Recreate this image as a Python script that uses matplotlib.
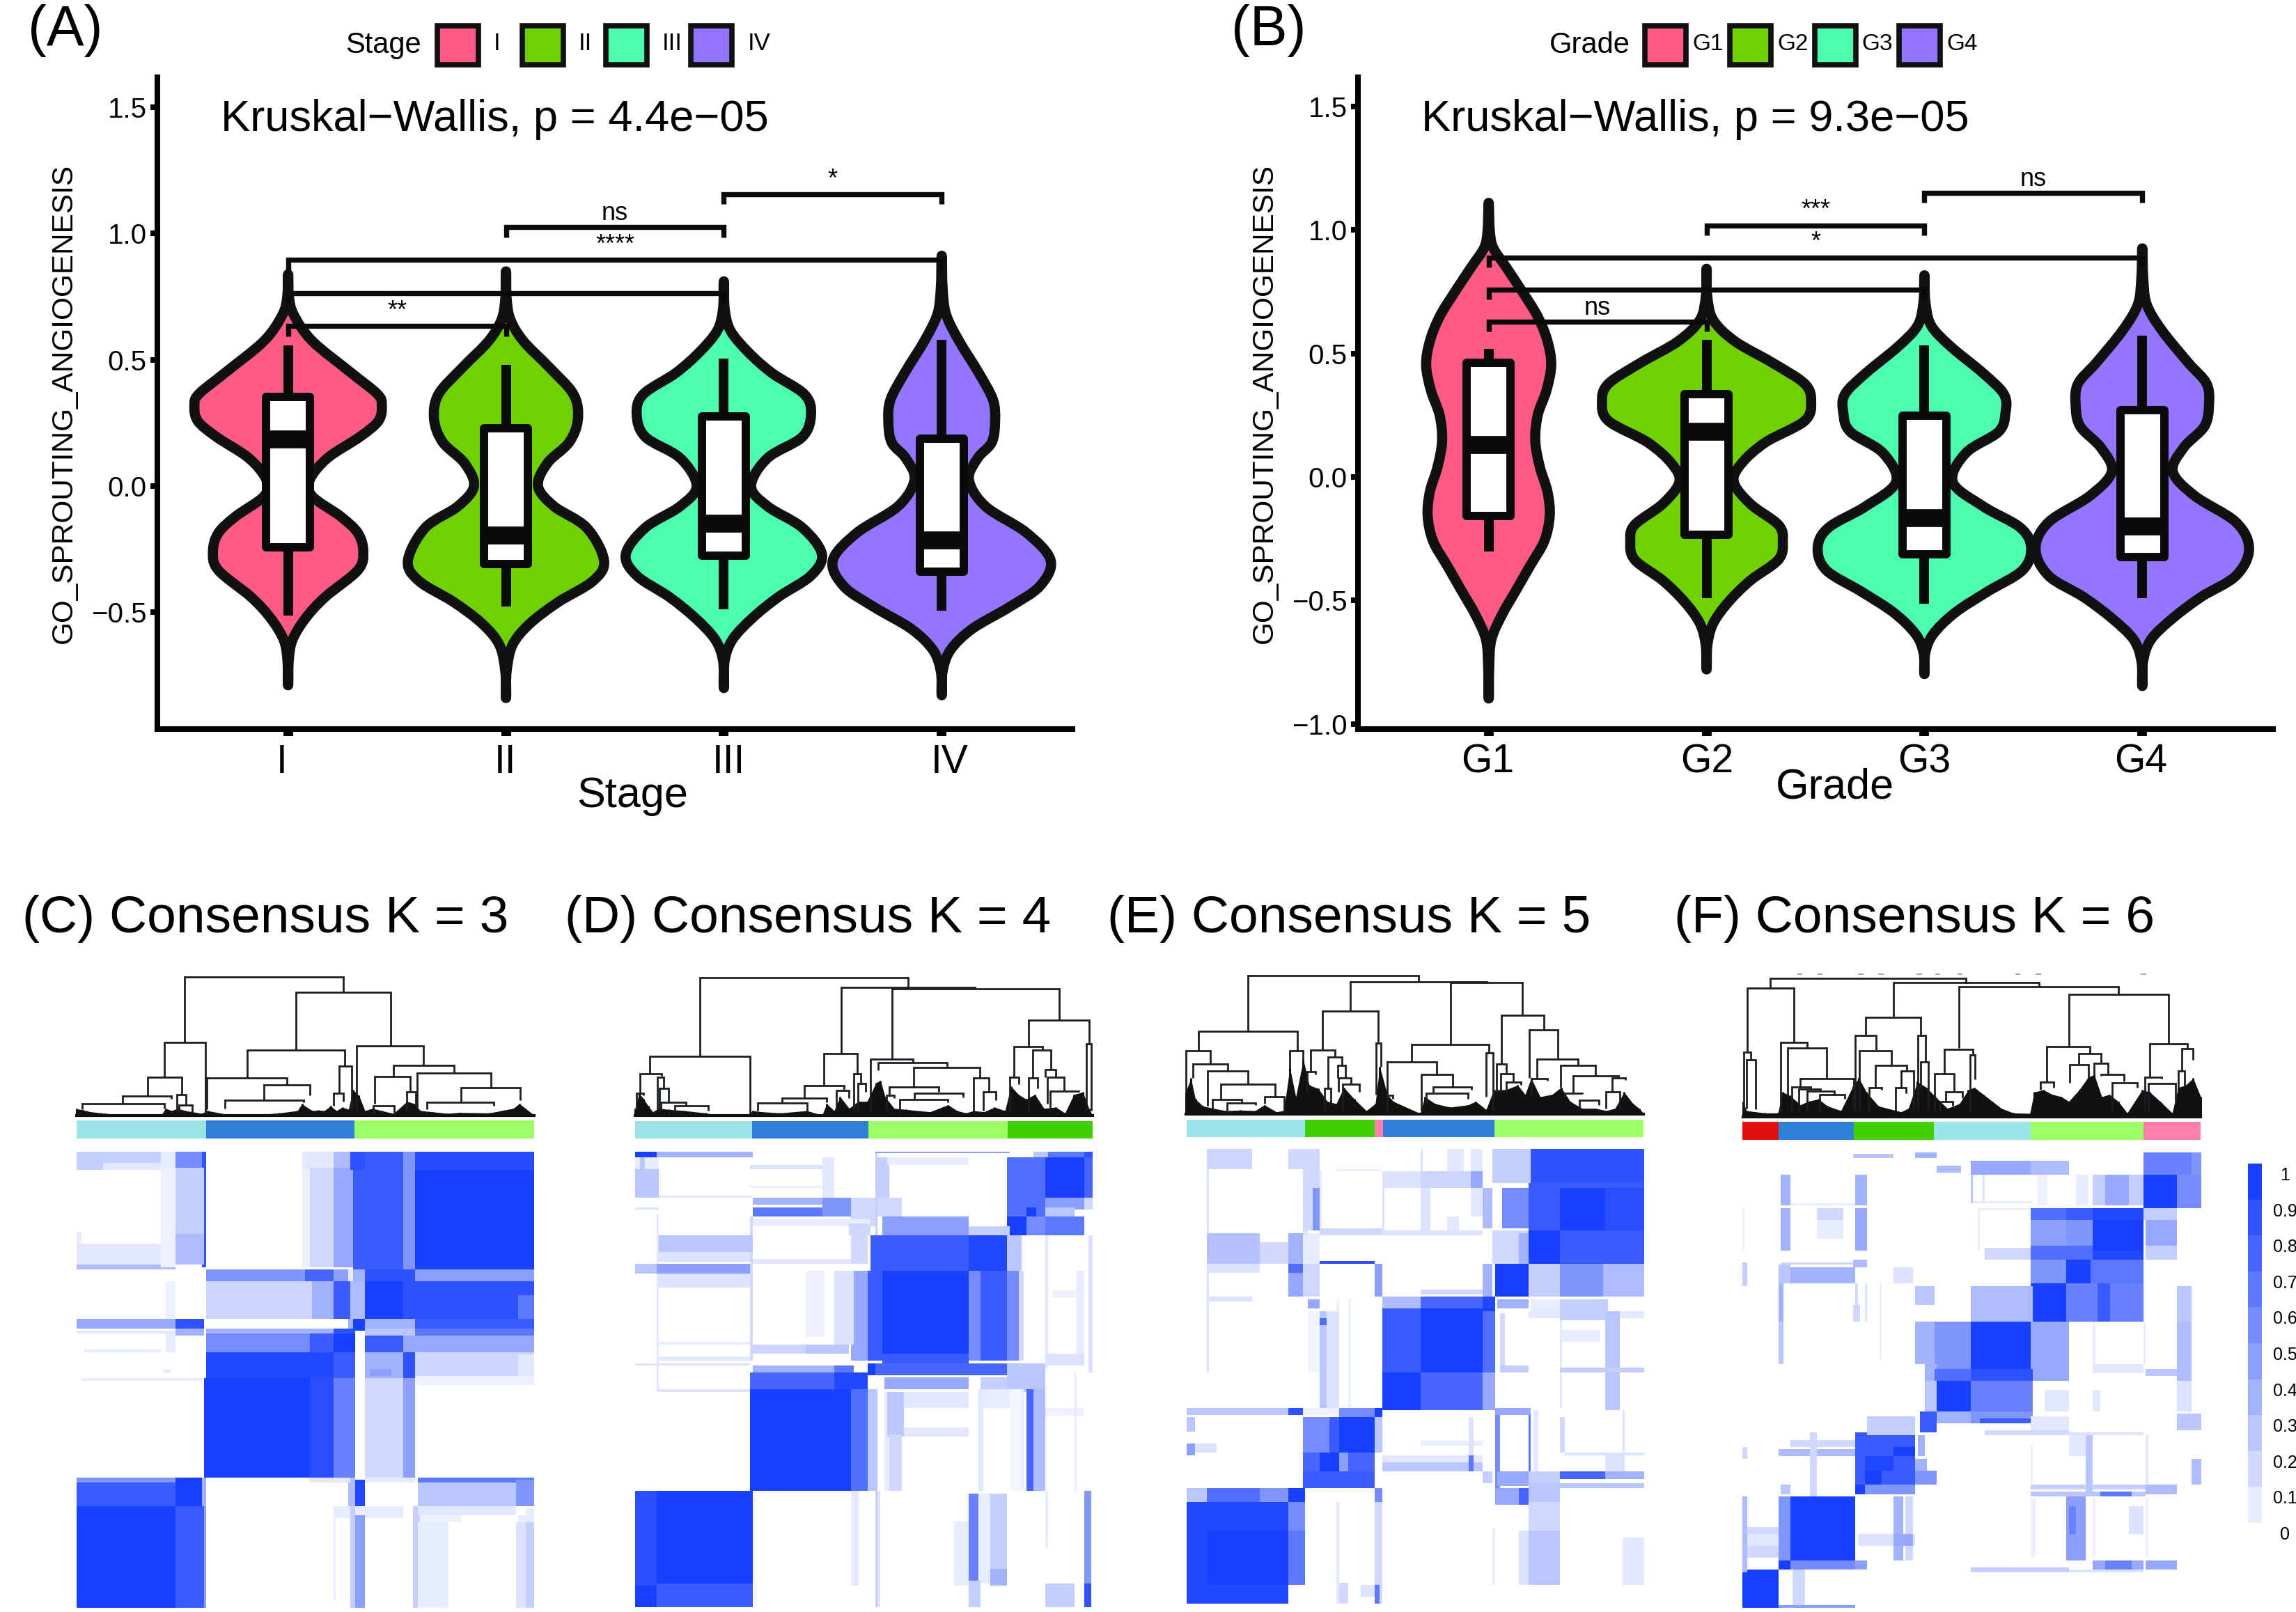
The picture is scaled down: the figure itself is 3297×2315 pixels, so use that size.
########################################################  Packages

import numpy as np
import matplotlib
matplotlib.use('Agg')
import matplotlib.pyplot as plt
from matplotlib.colors import LinearSegmentedColormap
from matplotlib.patches import PathPatch, Rectangle
from matplotlib.path import Path
from matplotlib.transforms import ScaledTranslation

plt.rcParams['font.family'] = ['Liberation Sans', 'DejaVu Sans']

########################################################  Data: violins

stage_labels = ['I', 'II', 'III', 'IV']
grade_labels = ['G1', 'G2', 'G3', 'G4']
violin_colors = ['#FF5A84', '#6FD100', '#4CFDB0', '#9575FF']

# height of each profile point and half width of the violin at that height
a1_y = [.83, .75, .68, .575, .448, .364, .32, .258, .195, .11, .025, -.04, -.12, -.186, -.26, -.334, -.44, -.524, -.61, -.69, -.78]
a1_w = [.001, .004, .025, .11, .29, .41, .43, .415, .33, .18, .10, .11, .24, .32, .345, .32, .17, .08, .02, .003, .001]
a2_y = [.84, .743, .66, .574, .469, .363, .264, .173, .09, 0, -.08, -.165, -.295, -.376, -.46, -.545, -.63, -.735, -.83]
a2_w = [.001, .003, .02, .08, .20, .31, .33, .29, .19, .147, .22, .37, .45, .40, .24, .11, .03, .003, .001]
a3_y = [.80, .70, .616, .532, .448, .363, .283, .194, .11, 0, -.08, -.165, -.27, -.355, -.44, -.524, -.608, -.69, -.79]
a3_w = [.001, .004, .03, .11, .22, .37, .40, .36, .20, .125, .20, .36, .45, .40, .25, .13, .04, .004, .001]
a4_y = [.90, .785, .68, .574, .448, .342, .258, .173, .11, .025, -.08, -.186, -.295, -.397, -.48, -.566, -.65, -.735, -.82]
a4_w = [.001, .004, .02, .08, .17, .235, .245, .23, .165, .125, .20, .39, .50, .45, .31, .14, .04, .004, .001]

b1_y = [1.10, 1.0, .93, .85, .75, .65, .55, .453, .35, .25, .145, .04, -.06, -.158, -.26, -.36, -.46, -.56, -.66, -.78, -.886]
b1_w = [.001, .005, .02, .08, .155, .225, .27, .287, .265, .225, .214, .235, .27, .28, .255, .19, .125, .06, .012, .002, .001]
b2_y = [.833, .734, .637, .55, .464, .378, .306, .227, .14, .054, -.02, -.108, -.194, -.26, -.335, -.42, -.507, -.594, -.68, -.77]
b2_w = [.001, .003, .03, .13, .30, .45, .48, .45, .27, .16, .125, .20, .33, .35, .33, .20, .10, .03, .004, .001]
b3_y = [.807, .712, .615, .529, .42, .335, .259, .183, .097, -.02, -.119, -.205, -.287, -.378, -.464, -.55, -.637, -.712, -.79]
b3_w = [.001, .004, .03, .12, .27, .365, .372, .34, .19, .13, .27, .44, .49, .45, .29, .14, .04, .004, .001]
b4_y = [.915, .81, .70, .594, .464, .378, .291, .205, .119, .022, -.076, -.183, -.291, -.40, -.486, -.572, -.658, -.745, -.837]
b4_w = [.001, .004, .02, .09, .21, .295, .306, .285, .19, .14, .24, .43, .49, .43, .27, .14, .04, .004, .001]

# boxes inside the violins
a_q1 = [-.243, -.31, -.275, -.34]
a_med = [.184, -.197, -.148, -.216]
a_q3 = [.353, .23, .275, .188]
a_lo = [-.514, -.478, -.488, -.493]
a_hi = [.558, .48, .505, .58]

b_q1 = [-.158, -.233, -.313, -.324]
b_med = [.13, .183, -.166, -.20]
b_q3 = [.464, .335, .248, .27]
b_lo = [-.302, -.492, -.514, -.492]
b_hi = [.518, .555, .533, .572]

# comparison brackets: first group, second group, height
a_brackets = [(1, 2, .634), (1, 3, .765), (1, 4, .896), (2, 3, 1.025), (3, 4, 1.156)]
b_brackets = [(1, 2, .63), (1, 3, .76), (1, 4, .889), (2, 3, 1.019), (3, 4, 1.15)]
# significance text: position on the x axis, height, label
a_signif = [(1.5, .69, '**'), (2.5, .953, '****'), (2.5, 1.08, 'ns'), (3.5, 1.211, '*')]
b_signif = [(1.5, .684, 'ns'), (2.5, .948, '*'), (2.5, 1.078, '***'), (3.5, 1.207, 'ns')]

########################################################  Data: consensus matrices

cluster_colors = {'cyan': '#9BE5E8', 'blue': '#2E7FD8', 'lime': '#9DFF66',
                  'green': '#3FD000', 'pink': '#FF7FAC', 'red': '#E41010'}

c_bar_edges = [23, 455, 950, 1549]
c_bar_names = ['cyan', 'blue', 'lime']
d_bar_edges = [16, 407, 794, 1259, 1542]
d_bar_names = ['cyan', 'blue', 'lime', 'green']
e_bar_edges = [21, 416, 648, 676, 1048, 1545]
e_bar_names = ['cyan', 'green', 'pink', 'blue', 'lime']
f_bar_edges = [16, 137, 389, 655, 977, 1354, 1545]
f_bar_names = ['red', 'blue', 'green', 'cyan', 'lime', 'pink']

# blocks of the matrix: column from, column to, row from, row to, consensus
c_blocks = [
    (23, 110, 10, 70, .25), (113, 310, 10, 55, .25), (113, 310, 55, 70, .12), (310, 355, 10, 70, .1),
    (355, 447, 10, 70, .6), (447, 455, 10, 400, .9), (355, 447, 70, 290, .25), (355, 447, 290, 395, .35),
    (23, 310, 325, 390, .12), (23, 355, 395, 408, .35), (310, 350, 70, 400, .08), (780, 880, 10, 70, .12),
    (800, 880, 70, 400, .2), (880, 950, 10, 70, .35), (880, 950, 70, 400, .45), (950, 1115, 10, 405, .85),
    (940, 985, 10, 70, .9), (1115, 1155, 10, 405, .55), (1155, 1549, 10, 405, 1), (1155, 1549, 10, 70, .93),
    (458, 790, 408, 452, .55), (790, 880, 408, 452, .8), (880, 935, 408, 452, .5), (935, 950, 408, 452, .1),
    (950, 985, 408, 452, .4), (985, 1155, 408, 452, .9), (1155, 1549, 408, 452, .5),
    (458, 810, 452, 578, .22), (810, 880, 452, 578, .4), (880, 940, 452, 578, .85), (940, 985, 452, 578, .35),
    (985, 1115, 452, 578, 1), (1115, 1549, 452, 578, .9), (1500, 1549, 500, 578, .7), (320, 355, 452, 578, .08),
    (23, 355, 578, 608, .45), (355, 447, 578, 608, .9), (935, 950, 578, 608, .4), (950, 985, 578, 612, 1),
    (985, 1155, 578, 612, .4), (1155, 1549, 578, 612, .85), (355, 447, 612, 632, .4), (23, 355, 620, 626, .12),
    (458, 880, 615, 630, .4), (880, 950, 615, 630, .9), (1155, 1549, 612, 630, .7), (985, 1155, 615, 632, .3),
    (458, 880, 630, 690, .6), (800, 880, 630, 690, .85), (880, 950, 630, 690, 1), (985, 1115, 635, 690, .85),
    (1115, 1155, 635, 690, .45), (1155, 1549, 635, 690, .45), (458, 880, 690, 780, .95), (880, 950, 690, 780, .85),
    (985, 1115, 690, 780, .4), (1000, 1075, 750, 765, .5), (1115, 1155, 690, 790, .9), (1155, 1549, 690, 770, .22),
    (1500, 1549, 700, 765, .12), (1155, 1549, 770, 795, .08), (455, 800, 780, 1115, 1), (800, 880, 780, 1115, .92),
    (880, 950, 780, 1115, .65), (985, 1115, 780, 1110, .2), (1115, 1155, 780, 1110, .5),
    (23, 355, 1115, 1215, .85), (23, 355, 1115, 1125, .55), (355, 447, 1115, 1215, 1), (447, 455, 1115, 1215, .4),
    (935, 955, 1115, 1215, .35), (955, 985, 1120, 1215, .95), (800, 935, 1118, 1125, .12), (985, 1150, 1118, 1125, .1),
    (1165, 1549, 1125, 1205, .3), (1165, 1549, 1115, 1125, .7), (1490, 1549, 1125, 1205, .55),
    (23, 355, 1215, 1553, 1), (355, 450, 1215, 1553, .85), (450, 455, 1215, 1553, .5), (880, 1115, 1215, 1245, .1),
    (955, 985, 1245, 1553, .5), (1150, 1165, 1215, 1553, .25), (1165, 1490, 1215, 1240, .12),
    (1165, 1260, 1265, 1553, .1), (1490, 1549, 1265, 1553, .15), (1520, 1549, 1265, 1553, .25),
]
d_blocks = [
    (16, 92, 12, 35, 1), (92, 405, 15, 33, .4), (16, 92, 35, 168, .3), (50, 92, 35, 70, .1), (16, 32, 35, 70, .1),
    (405, 640, 60, 72, .15), (640, 680, 35, 165, .12), (820, 860, 35, 165, .25), (1260, 1385, 35, 168, .75),
    (1385, 1515, 35, 168, 1), (1515, 1541, 35, 168, .8), (1390, 1515, 10, 35, .7), (1350, 1390, 10, 35, .3),
    (1515, 1541, 10, 35, .9), (820, 1260, 8, 14, .5), (860, 1130, 35, 55, .1), (408, 740, 170, 192, .4),
    (408, 740, 205, 232, .7), (640, 740, 170, 232, .55), (740, 820, 170, 260, .2), (820, 900, 170, 232, .2),
    (1260, 1385, 168, 232, .75), (1320, 1350, 205, 232, 1), (1385, 1515, 168, 205, .5), (1385, 1480, 205, 232, .3),
    (1515, 1541, 168, 205, .2), (1260, 1320, 232, 296, 1), (1320, 1385, 232, 296, .6), (1385, 1515, 232, 296, .7),
    (840, 1130, 235, 296, .5), (1130, 1260, 265, 296, .25), (405, 800, 245, 262, .1), (730, 800, 262, 296, .2),
    (800, 1130, 296, 420, .85), (1130, 1260, 296, 420, .95), (96, 405, 296, 355, .3), (96, 405, 355, 380, .15),
    (16, 92, 395, 420, .3), (92, 400, 395, 420, .5), (405, 740, 380, 392, .12), (740, 795, 296, 390, .2),
    (1260, 1300, 296, 420, .3), (840, 1130, 420, 700, 1), (795, 840, 420, 720, .85), (1130, 1170, 420, 720, .6),
    (1170, 1260, 420, 720, .85), (740, 795, 420, 720, .45), (685, 740, 420, 660, .15), (590, 650, 420, 640, .08),
    (1260, 1300, 420, 720, .6), (1300, 1315, 420, 720, .2), (96, 400, 425, 470, .15), (1415, 1510, 480, 500, .08),
    (410, 730, 665, 695, .22), (590, 730, 665, 695, .3), (840, 1130, 700, 730, .85), (1390, 1515, 700, 735, .15),
    (92, 400, 708, 722, .12), (795, 820, 735, 765, 1), (820, 1260, 735, 765, .8), (408, 740, 740, 765, .4),
    (680, 740, 740, 765, .7), (1260, 1385, 730, 765, .3), (405, 795, 765, 820, .8), (680, 795, 765, 820, .95),
    (850, 1130, 780, 815, .45), (1175, 1260, 780, 820, .25), (1260, 1385, 765, 820, .3), (407, 740, 820, 1162, 1),
    (740, 795, 820, 1162, .75), (795, 820, 820, 1162, .3), (860, 915, 830, 975, .3), (870, 900, 975, 1162, .2),
    (915, 1130, 830, 880, .12), (915, 1130, 950, 975, .12), (1165, 1270, 820, 880, .1), (1320, 1350, 820, 1160, .8),
    (1350, 1380, 820, 1160, .35), (1385, 1510, 885, 905, .08), (1300, 1315, 820, 1160, .1), (1270, 1300, 820, 1160, .05),
    (16, 92, 1162, 1555, .92), (92, 405, 1162, 1475, 1), (16, 92, 1480, 1555, 1), (92, 405, 1478, 1555, .85),
    (1135, 1165, 1170, 1470, .65), (1165, 1200, 1170, 1470, .1), (1200, 1258, 1170, 1470, .25),
    (1135, 1165, 1470, 1555, .25), (1200, 1258, 1430, 1480, .4), (1080, 1130, 1270, 1480, .1),
    (1515, 1535, 1165, 1555, .55), (1385, 1480, 1475, 1555, .25), (1515, 1535, 1475, 1555, .9),
    (820, 830, 1165, 1555, .15), (740, 750, 1165, 1480, .1),
]
e_blocks = [
    (88, 240, 12, 80, .22), (360, 415, 12, 80, .2), (415, 465, 12, 290, .2), (445, 465, 145, 285, .55),
    (1165, 1545, 12, 130, .9), (1165, 1545, 130, 295, .85), (1265, 1420, 145, 295, 1), (1420, 1545, 145, 295, .92),
    (1045, 1165, 12, 130, .25), (1075, 1160, 145, 280, .6), (1015, 1040, 145, 280, .35), (975, 1010, 145, 240, .12),
    (800, 1010, 95, 145, .22), (675, 800, 95, 145, .15), (975, 1010, 95, 145, .45), (1165, 1265, 295, 400, 1),
    (1265, 1545, 295, 400, .85), (1045, 1160, 295, 400, .2), (1130, 1160, 300, 400, .4), (88, 265, 300, 400, .32),
    (265, 360, 335, 400, .2), (360, 415, 300, 400, .4), (415, 465, 300, 400, .1), (360, 415, 402, 515, .45),
    (360, 415, 402, 430, .75), (88, 265, 405, 435, .15), (415, 465, 402, 515, .2), (655, 675, 400, 515, .5),
    (465, 650, 398, 402, .9), (1048, 1160, 402, 515, 1), (1165, 1265, 402, 515, .25), (1265, 1415, 405, 515, .55),
    (1415, 1545, 405, 515, .35), (1010, 1040, 405, 515, .4), (800, 1010, 488, 503, .2), (88, 240, 517, 527, .15),
    (430, 465, 520, 555, .45), (675, 800, 517, 555, .35), (800, 1010, 517, 555, .8), (1010, 1048, 517, 560, .95),
    (675, 800, 555, 765, .85), (800, 1048, 555, 765, 1), (1010, 1048, 560, 765, .75), (675, 800, 770, 893, 1),
    (800, 1048, 770, 893, .8), (1010, 1048, 770, 893, .45), (465, 525, 560, 893, .3), (465, 495, 590, 610, .75),
    (495, 525, 560, 893, .15), (1060, 1160, 525, 555, .4), (1170, 1265, 525, 560, .1), (1265, 1420, 525, 590, .25),
    (1420, 1465, 560, 893, .3), (1065, 1080, 570, 760, .2), (1270, 1400, 630, 660, .1), (1270, 1545, 755, 770, .25),
    (1065, 1160, 745, 765, .25), (21, 360, 895, 915, .3), (360, 415, 895, 915, .9), (415, 530, 895, 915, .08),
    (530, 650, 895, 920, .6), (650, 675, 895, 920, 1), (415, 530, 920, 1160, .85), (530, 650, 920, 1040, 1),
    (415, 495, 920, 1040, .6), (650, 675, 920, 1040, .3), (415, 530, 1045, 1105, .8), (465, 525, 1045, 1105, 1),
    (530, 650, 1045, 1105, .8), (530, 560, 1045, 1105, .5), (415, 650, 1105, 1160, .85), (21, 50, 920, 970, .3),
    (21, 50, 1012, 1045, .5), (50, 120, 1012, 1040, .15), (1048, 1165, 895, 915, .45), (1050, 1060, 915, 1160, .6),
    (1160, 1165, 915, 1160, .7), (675, 1010, 1050, 1078, .12), (675, 1010, 1078, 1105, .3), (960, 975, 1050, 1105, .7),
    (1060, 1160, 1108, 1155, .45), (1270, 1415, 1108, 1125, .8), (1420, 1545, 1110, 1125, .4), (1165, 1265, 1110, 1155, .25),
    (1010, 1040, 1108, 1140, .25), (1165, 1545, 1150, 1160, .3), (1048, 1160, 1160, 1215, .45), (1130, 1160, 1160, 1215, .8),
    (1165, 1265, 1160, 1215, .3), (21, 85, 1165, 1210, .3), (88, 265, 1165, 1210, .75), (265, 360, 1165, 1210, .55),
    (360, 415, 1160, 1215, 1), (655, 675, 1165, 1215, .6), (21, 360, 1215, 1555, .95), (88, 360, 1310, 1490, 1),
    (360, 415, 1215, 1490, .6), (360, 415, 1310, 1490, .7), (648, 672, 1215, 1555, .2), (650, 665, 1490, 1555, .7),
    (530, 560, 1480, 1555, .2), (600, 648, 1490, 1530, .15), (1165, 1265, 1215, 1490, .2), (1165, 1265, 1310, 1490, .3),
    (1130, 1160, 1310, 1490, .15), (1475, 1545, 1335, 1490, .12), (1040, 1050, 1300, 1490, .1),
]
f_blocks = [
    (390, 520, 18, 32, .3), (595, 665, 15, 30, .4), (670, 740, 60, 80, .35), (780, 980, 40, 85, .45), (980, 1100, 40, 85, .35),
    (1355, 1515, 12, 90, .65), (1515, 1545, 12, 200, .55), (1355, 1465, 90, 200, 1), (1465, 1545, 90, 200, .6),
    (150, 178, 90, 190, .4), (395, 430, 90, 190, .4), (1185, 1225, 90, 190, .25), (1225, 1310, 90, 190, .45),
    (1310, 1350, 90, 190, .25), (1130, 1170, 90, 190, .1), (1000, 1030, 90, 190, .08), (980, 1100, 200, 245, .75),
    (1100, 1185, 200, 245, .85), (1185, 1355, 200, 375, .95), (1190, 1355, 240, 345, 1), (980, 1100, 245, 345, .5),
    (1100, 1185, 245, 345, .55), (980, 1185, 335, 375, .75), (1355, 1465, 205, 240, .25), (1365, 1460, 245, 330, .45),
    (1365, 1460, 335, 375, .25), (150, 178, 200, 345, .4), (395, 430, 200, 345, .45), (265, 350, 200, 240, .2),
    (265, 350, 245, 300, .1), (830, 975, 340, 375, .2), (980, 1100, 378, 458, .55), (1100, 1180, 378, 458, 1),
    (1180, 1355, 378, 458, .7), (140, 178, 395, 458, .3), (178, 390, 400, 458, .4), (390, 430, 380, 400, .35),
    (520, 580, 400, 458, .15), (980, 1100, 460, 585, 1), (1100, 1350, 460, 585, .65), (1200, 1240, 460, 585, .85),
    (780, 980, 465, 585, .35), (595, 655, 465, 530, .3), (1470, 1510, 465, 585, .3), (140, 150, 460, 585, .4),
    (390, 410, 530, 585, .2), (780, 980, 585, 790, 1), (655, 775, 590, 790, .55), (595, 655, 590, 730, .4),
    (980, 1100, 590, 785, .45), (1470, 1510, 590, 780, .35), (630, 665, 730, 790, .4), (660, 775, 745, 785, .75),
    (780, 980, 750, 785, .9), (140, 150, 590, 730, .3), (655, 775, 790, 890, 1), (780, 980, 790, 890, .65),
    (630, 660, 790, 890, .3), (1045, 1100, 825, 890, .1), (610, 665, 895, 960, .85), (670, 780, 890, 930, .4),
    (780, 980, 895, 930, .55), (810, 980, 912, 930, .85), (980, 1100, 910, 960, .12), (830, 1100, 955, 965, .2),
    (1470, 1540, 900, 955, .3), (395, 595, 965, 1140, .85), (435, 590, 905, 965, .25), (520, 590, 1010, 1040, 1),
    (430, 520, 1040, 1090, .95), (430, 480, 1095, 1135, 1), (395, 430, 1140, 1170, 1), (430, 590, 1140, 1170, .55),
    (595, 665, 1090, 1135, .55), (595, 635, 1050, 1090, .4), (600, 625, 970, 1040, .4), (180, 390, 985, 1005, .2),
    (140, 390, 1018, 1043, .35), (240, 260, 960, 1180, .2), (150, 178, 1140, 1170, .3), (980, 1360, 1140, 1150, .25),
    (980, 1360, 1165, 1178, .3), (1210, 1310, 1160, 1175, .7), (1360, 1460, 1140, 1170, .35), (1160, 1180, 970, 1170, .3),
    (1105, 1160, 970, 1040, .12), (1515, 1545, 1050, 1135, .35), (20, 135, 1430, 1548, 1), (140, 178, 1182, 1390, .55),
    (178, 390, 1182, 1395, 1), (140, 178, 1395, 1425, 1), (178, 390, 1395, 1425, .6), (20, 135, 1280, 1300, .2),
    (20, 135, 1310, 1340, .12), (20, 135, 1345, 1380, .2), (16, 28, 1182, 1430, .35), (395, 430, 1395, 1422, .5),
    (520, 550, 1182, 1395, .4), (560, 580, 1182, 1395, .2), (400, 590, 1310, 1340, .15), (520, 580, 1310, 1340, .45),
    (1100, 1160, 1182, 1395, .5), (1105, 1130, 1210, 1300, .65), (1190, 1350, 1395, 1422, .45), (1230, 1310, 1395, 1422, .65),
    (1360, 1465, 1395, 1422, .45), (780, 1100, 1420, 1430, .25), (185, 220, 1430, 1548, .2), (140, 390, 1545, 1553, .5),
    (1310, 1350, 1210, 1300, .15),
]

# faint single samples crossing the empty areas, only drawn where the matrix is lighter
c_faint = [
    (50, 300, 685, 690, .1), (40, 440, 778, 783, .1), (320, 350, 630, 690, .1), (312, 335, 750, 762, .1),
    (880, 890, 1230, 1530, .08), (940, 950, 1130, 1553, .25), (1500, 1549, 1240, 1265, .1), (23, 40, 285, 395, .1),
    (780, 800, 70, 400, .08), (1165, 1549, 795, 800, .08), (1165, 1300, 1245, 1265, .08), (1520, 1549, 1220, 1265, .1),
]
d_faint = [
    (92, 96, 230, 820, .12), (405, 640, 130, 135, .08), (92, 405, 660, 664, .1), (16, 400, 735, 738, .15),
    (92, 400, 818, 822, .15), (750, 756, 1165, 1480, .12), (820, 826, 1165, 1555, .25), (1385, 1390, 1165, 1350, .1),
    (1480, 1490, 760, 1160, .1), (1385, 1390, 300, 740, .12), (1495, 1510, 420, 700, .1), (16, 92, 200, 204, .15),
    (92, 405, 165, 169, .12), (400, 405, 235, 720, .2), (1535, 1541, 300, 760, .15), (1165, 1175, 820, 1160, .12),
    (820, 826, 14, 300, .25), (850, 860, 830, 1160, .1),
]
e_faint = [
    (88, 92, 80, 770, .15), (415, 420, 80, 300, .15), (465, 470, 90, 285, .1), (527, 675, 80, 84, .1),
    (675, 680, 145, 295, .15), (800, 830, 145, 295, .15), (675, 1010, 295, 300, .15), (890, 930, 245, 295, .12),
    (525, 530, 520, 900, .08), (560, 565, 520, 900, .08), (1265, 1270, 560, 890, .12), (1165, 1545, 560, 580, .12),
    (525, 530, 1215, 1555, .12), (1475, 1480, 900, 1040, .15), (1180, 1190, 900, 1100, .12), (1270, 1280, 920, 1040, .2),
    (800, 1010, 1005, 1012, .1), (960, 975, 920, 1045, .15), (1280, 1420, 1045, 1050, .15), (1420, 1480, 1045, 1108, .15),
    (1480, 1545, 1045, 1050, .15), (800, 810, 12, 90, .15), (890, 940, 12, 90, .12), (975, 1010, 12, 90, .12),
    (465, 675, 285, 300, .2), (430, 465, 560, 770, .06),
]
f_faint = [
    (980, 985, 1000, 1140, .08), (980, 1355, 1430, 1433, .15), (1185, 1190, 590, 730, .1), (1355, 1360, 590, 730, .1),
    (1185, 1355, 730, 760, .12), (1360, 1470, 750, 765, .3), (1470, 1510, 780, 890, .15), (780, 785, 90, 180, .3),
    (780, 980, 180, 186, .1), (820, 825, 90, 180, .15), (16, 22, 200, 340, .08), (16, 28, 390, 460, .25),
    (16, 28, 1010, 1045, .2), (183, 390, 185, 190, .1), (395, 400, 460, 585, .2), (430, 435, 460, 585, .15),
    (475, 480, 460, 720, .08), (800, 805, 200, 340, .1), (800, 975, 200, 205, .1), (145, 390, 390, 395, .2),
    (1030, 1100, 820, 890, .12), (1185, 1210, 820, 890, .12), (1360, 1365, 970, 1140, .12), (1110, 1180, 970, 1040, .12),
    (980, 1355, 960, 968, .15), (1185, 1190, 1190, 1380, .08), (1360, 1365, 1190, 1380, .08), (980, 990, 1190, 1380, .08),
]

########################################################  Data: dendrograms

# merges: left leaf, right leaf, height of the merge, end of left arm, end of right arm
c_tree = [
    (384, 912, 25, 305, 90), (756, 1072, 90, 340, 320), (315, 452, 305, 455, 620), (260, 374, 455, 535, 530),
    (177, 340, 537, 570, 548), (42, 315, 570, 595, 590), (592, 918, 340, 458, 407), (458, 724, 458, 595, 490),
    (648, 802, 490, 555, 535), (517, 780, 555, 590, 565), (898, 940, 407, 525, 600), (880, 912, 525, 580, 560),
    (958, 1180, 320, 600, 405), (1080, 1282, 405, 452, 437), (1018, 1137, 452, 570, 520), (1160, 1405, 437, 590, 500),
    (1305, 1503, 500, 565, 555), (1192, 1415, 563, 595, 580), (358, 387, 530, 600, 575), (365, 408, 577, 610, 610),
    (1125, 1155, 520, 600, 580), (1012, 1082, 580, 610, 610),
]
d_tree = [
    (233, 927, 27, 367, 68), (703, 1150, 68, 355, 75), (873, 1430, 75, 378, 210), (1328, 1530, 210, 325, 312),
    (1522, 1538, 312, 600, 600), (1280, 1375, 325, 455, 338), (1343, 1403, 338, 458, 422), (1385, 1420, 422, 455, 455),
    (1392, 1448, 455, 570, 515), (1265, 1297, 455, 600, 485), (1328, 1360, 458, 600, 505), (1400, 1495, 515, 600, 520),
    (65, 400, 367, 440, 620), (33, 105, 440, 525, 450), (90, 112, 455, 600, 505), (97, 128, 505, 600, 560),
    (103, 185, 565, 600, 580), (148, 260, 580, 610, 600), (22, 45, 525, 600, 535), (645, 758, 355, 490, 442),
    (580, 712, 492, 545, 510), (507, 655, 547, 568, 565), (425, 590, 568, 600, 600), (688, 730, 512, 600, 545),
    (745, 770, 442, 600, 482), (760, 785, 482, 600, 520), (802, 943, 378, 600, 390), (828, 1057, 392, 425, 415),
    (945, 1165, 415, 497, 455), (1145, 1197, 458, 600, 518), (1178, 1220, 518, 600, 555), (863, 1030, 497, 530, 520),
    (948, 1110, 525, 550, 542), (900, 1060, 553, 600, 565), (855, 880, 535, 600, 545),
]
e_tree = [
    (225, 795, 18, 257, 47), (567, 1022, 45, 170, 50), (902, 1140, 48, 315, 190), (475, 660, 172, 338, 305),
    (435, 515, 340, 430, 370), (492, 540, 370, 500, 405), (527, 570, 458, 520, 490), (525, 550, 405, 460, 460),
    (542, 597, 487, 600, 520), (422, 450, 432, 520, 445), (652, 668, 308, 530, 410), (60, 390, 257, 342, 342),
    (18, 100, 342, 520, 398), (42, 158, 398, 460, 428), (90, 226, 428, 580, 487), (135, 315, 487, 550, 540),
    (108, 205, 552, 590, 565), (155, 250, 568, 600, 575), (282, 345, 540, 570, 600), (365, 410, 342, 415, 385),
    (772, 1030, 315, 390, 352), (690, 855, 390, 535, 443), (803, 908, 445, 600, 497), (843, 970, 498, 525, 510),
    (820, 960, 525, 570, 550), (1020, 1042, 352, 540, 600), (1072, 1212, 190, 398, 252), (1055, 1087, 398, 520, 440),
    (1068, 1110, 440, 520, 478), (1088, 1135, 478, 520, 490), (1163, 1260, 252, 460, 377), (1190, 1327, 377, 460, 405),
    (1268, 1385, 405, 500, 450), (1310, 1460, 450, 525, 460), (1440, 1485, 460, 520, 468), (1170, 1225, 463, 530, 470),
    (1283, 1340, 525, 540, 528), (1330, 1395, 555, 600, 575), (690, 708, 535, 600, 550), (480, 502, 505, 600, 580),
    (1420, 1465, 520, 590, 590),
]
f_tree = [
    (110, 762, 30, 72, 50), (520, 1007, 48, 195, 65), (738, 1270, 65, 330, 98), (1105, 1438, 98, 325, 312),
    (33, 188, 72, 345, 305), (22, 45, 347, 600, 378), (30, 60, 380, 590, 595), (145, 232, 307, 600, 330),
    (168, 298, 330, 540, 462), (210, 388, 462, 495, 600), (182, 243, 497, 600, 507), (205, 277, 507, 600, 515),
    (232, 322, 517, 600, 527), (275, 358, 532, 600, 550), (427, 612, 197, 275, 275), (393, 462, 275, 600, 338),
    (407, 513, 342, 600, 405), (460, 565, 405, 500, 430), (440, 482, 502, 600, 510), (545, 587, 430, 500, 600),
    (528, 562, 502, 600, 525), (602, 627, 275, 600, 390), (612, 637, 390, 500, 600), (690, 785, 335, 440, 360),
    (658, 722, 440, 600, 518), (695, 750, 518, 560, 545), (677, 718, 562, 600, 580), (777, 792, 360, 600, 465),
    (1032, 1175, 325, 478, 355), (1138, 1212, 355, 400, 392), (1108, 1170, 402, 480, 460), (1190, 1235, 395, 450, 445),
    (1212, 1290, 443, 450, 475), (1250, 1333, 480, 600, 500), (1010, 1055, 478, 510, 500), (1375, 1500, 312, 452, 330),
    (1358, 1415, 455, 600, 462), (1370, 1462, 483, 600, 560), (1482, 1520, 332, 430, 380), (1470, 1492, 430, 500, 495),
]
f_tree_marks = [208, 275, 412, 478, 607, 668, 742, 935, 1003, 1355]

# dense low part of each tree: leaf position and top of the tuft
c_tuft_x = [23, 45, 70, 120, 175, 305, 320, 340, 360, 385, 410, 440, 460, 520, 600, 700, 760, 775, 790, 810, 830, 850, 870, 890, 910, 930, 945, 965, 985, 1010, 1040, 1080, 1100, 1125, 1150, 1170, 1210, 1260, 1300, 1400, 1480, 1500, 1520, 1550]
c_tuft_y = [592, 597, 605, 612, 620, 620, 590, 600, 590, 600, 605, 612, 600, 615, 620, 610, 600, 570, 585, 600, 598, 600, 580, 600, 585, 595, 510, 535, 600, 590, 600, 612, 590, 560, 570, 600, 605, 612, 608, 610, 590, 570, 590, 620]
d_tuft_x = [16, 30, 45, 60, 75, 95, 130, 180, 250, 300, 390, 408, 440, 500, 590, 640, 655, 680, 700, 730, 760, 790, 820, 835, 850, 880, 920, 1000, 1060, 1090, 1120, 1145, 1180, 1215, 1250, 1270, 1295, 1320, 1350, 1380, 1420, 1450, 1480, 1510, 1530, 1542]
d_tuft_y = [590, 525, 550, 580, 605, 590, 595, 600, 610, 620, 620, 600, 605, 610, 600, 620, 570, 600, 540, 590, 560, 560, 480, 470, 540, 590, 595, 605, 575, 600, 610, 600, 605, 585, 600, 495, 530, 550, 530, 590, 585, 610, 530, 520, 590, 620]
e_tuft_x = [18, 35, 50, 75, 110, 150, 200, 250, 280, 320, 345, 365, 385, 410, 430, 460, 490, 520, 545, 580, 620, 650, 665, 690, 710, 800, 815, 850, 900, 960, 985, 1020, 1045, 1085, 1125, 1150, 1170, 1200, 1240, 1270, 1300, 1340, 1385, 1420, 1450, 1480, 1510, 1530, 1545]
e_tuft_y = [520, 460, 550, 580, 590, 600, 598, 600, 575, 605, 600, 415, 540, 380, 490, 505, 560, 570, 500, 550, 600, 570, 410, 530, 560, 612, 540, 570, 585, 575, 560, 595, 510, 510, 490, 530, 460, 540, 530, 500, 560, 590, 590, 600, 590, 520, 570, 590, 612]
f_tuft_x = [18, 30, 60, 90, 135, 150, 175, 210, 235, 270, 300, 345, 385, 405, 430, 470, 500, 545, 570, 600, 630, 660, 700, 740, 770, 790, 820, 850, 880, 920, 975, 990, 1020, 1050, 1080, 1105, 1140, 1170, 1190, 1215, 1240, 1270, 1300, 1350, 1375, 1410, 1450, 1470, 1495, 1520, 1545]
f_tuft_y = [560, 600, 605, 610, 610, 520, 535, 575, 560, 550, 580, 600, 495, 460, 520, 580, 590, 605, 590, 475, 500, 540, 590, 570, 510, 500, 530, 560, 590, 610, 612, 520, 510, 530, 540, 560, 510, 455, 445, 540, 530, 560, 610, 510, 520, 560, 610, 500, 490, 460, 540]

colorbar_levels = [.1, .2, .3, .4, .5, .6, .7, .8, .9, 1.0]
colorbar_labels = ['1', '0.9', '0.8', '0.7', '0.6', '0.5', '0.4', '0.3', '0.2', '0.1', '0']

########################################################  Figure

W, H = 3298, 2315
fig = plt.figure(figsize=(W / 100, H / 100), dpi=100, facecolor='white')


def px_axes(x0, y0, w, h):
    # axes placed by its pixel box, y counted from the top
    return fig.add_axes([x0 / W, 1 - (y0 + h) / H, w / W, h / H])


overlay = px_axes(0, 0, W, H)
overlay.set_xlim(0, W)
overlay.set_ylim(H, 0)
overlay.axis('off')
overlay.set_zorder(5)

consensus_cmap = LinearSegmentedColormap.from_list('consensus', ['#FFFFFF', '#1840FF'])


def smooth_closed(points):
    # closed Catmull-Rom curve through the read points, as bezier segments
    pts = np.asarray(points)
    n = len(pts)
    verts = [pts[0]]
    codes = [Path.MOVETO]
    for i in range(n):
        p0, p1, p2, p3 = pts[(i - 1) % n], pts[i], pts[(i + 1) % n], pts[(i + 2) % n]
        verts += [p1 + (p2 - p0) / 6, p2 - (p3 - p1) / 6, p2]
        codes += [Path.CURVE4] * 3
    return Path(verts, codes)


def draw_violin(ax, center, ys, widths, color):
    right = [(center + w, y) for y, w in zip(ys, widths)]
    left = [(center - w, y) for y, w in zip(ys, widths)]
    patch = PathPatch(smooth_closed(right + left[::-1]), facecolor=color, edgecolor='#111111',
                      linewidth=10.5, joinstyle='round', zorder=2)
    ax.add_patch(patch)


def draw_panel(x0, width, ylim, yticks, labels, profiles, q1, med, q3, lo, hi,
               brackets, signif, shifts, xlabel, xlabel_x, xlabel_y, kw_x, kw_y, kw_text):
    ax = px_axes(x0, 111, width, 936)
    ax.set_xlim(.4, 4.6)
    ax.set_ylim(*ylim)
    for i, (ys, ws) in enumerate(profiles):
        draw_violin(ax, i + 1, ys, ws, violin_colors[i])

    stats = [{'med': med[i], 'q1': q1[i], 'q3': q3[i], 'whislo': lo[i], 'whishi': hi[i], 'fliers': []}
             for i in range(4)]
    ax.bxp(stats, positions=[1, 2, 3, 4], widths=.2, patch_artist=True, showcaps=False, showfliers=False,
           manage_ticks=False, zorder=3,
           boxprops={'facecolor': 'white', 'edgecolor': '#0a0a0a', 'linewidth': 8.6, 'joinstyle': 'round'},
           whiskerprops={'color': '#0a0a0a', 'linewidth': 10, 'solid_capstyle': 'butt'},
           medianprops={'color': '#0a0a0a', 'linewidth': 18.5, 'solid_capstyle': 'butt'})

    for g1, g2, h in brackets:
        ax.plot([g1, g1, g2, g2], [h - .04, h, h, h - .04], color='#0a0a0a', lw=5.3,
                solid_joinstyle='miter', solid_capstyle='butt', zorder=4)
    for xs, ys, txt in signif:
        ax.text(xs, ys, txt, fontsize=26, ha='center', va='center', zorder=4)

    ax.text(kw_x, kw_y, kw_text, fontsize=45.5, ha='left', va='center')

    for side in ['top', 'right']:
        ax.spines[side].set_visible(False)
    for side in ['left', 'bottom']:
        ax.spines[side].set_linewidth(5.8)
    ax.set_xticks([1, 2, 3, 4])
    ax.set_xticklabels(labels, fontsize=41)
    ax.set_yticks(yticks)
    ax.set_yticklabels([f'{v:.1f}'.replace('-', '\u2212') for v in yticks], fontsize=29)
    ax.tick_params(axis='x', width=10, length=7, pad=8)
    ax.tick_params(axis='y', width=5.8, length=7, pad=4)
    for lbl, dx in zip(ax.get_xticklabels(), shifts):
        lbl.set_transform(lbl.get_transform() + ScaledTranslation(dx / 100, 0, fig.dpi_scale_trans))

    ax.set_ylabel('GO_SPROUTING_ANGIOGENESIS', fontsize=30.5, va='center')
    ax.yaxis.set_label_coords(-134 / width, .5)
    ax.set_xlabel(xlabel, fontsize=44, va='center')
    ax.xaxis.set_label_coords(xlabel_x, xlabel_y)
    return ax


draw_panel(226, 1314, (-.963, 1.619), [-.5, 0, .5, 1, 1.5], stage_labels,
           [(a1_y, a1_w), (a2_y, a2_w), (a3_y, a3_w), (a4_y, a4_w)],
           a_q1, a_med, a_q3, a_lo, a_hi, a_brackets, a_signif, [-9, -1, 7, 11],
           'Stage', (908 - 226) / 1314, -(1143 - 1047) / 936, .69, 1.453, 'Kruskal\u2212Wallis, p = 4.4e\u221205')
draw_panel(1950, 1314, (-1.021, 1.619), [-1, -.5, 0, .5, 1, 1.5], grade_labels,
           [(b1_y, b1_w), (b2_y, b2_w), (b3_y, b3_w), (b4_y, b4_w)],
           b_q1, b_med, b_q3, b_lo, b_hi, b_brackets, b_signif, [-2, 1, 0, -2],
           'Grade', (2635 - 1950) / 1314, -(1131 - 1047) / 936, .69, 1.448, 'Kruskal\u2212Wallis, p = 9.3e\u221205')

########################################################  Legends and panel letters

overlay.text(40, 44, '(A)', fontsize=58, ha='left', va='center')
overlay.text(1768, 44, '(B)', fontsize=58, ha='left', va='center')

overlay.text(550, 65, 'Stage', fontsize=30, ha='center', va='center')
for x, txt, tx, col in zip([628, 750, 870, 992], stage_labels, [714, 840, 965, 1090], violin_colors):
    overlay.add_patch(Rectangle((x, 37), 59, 56, facecolor=col, edgecolor='#111111', linewidth=5.5))
    overlay.text(tx, 63, txt, fontsize=25, ha='center', va='center')

overlay.text(2283, 65, 'Grade', fontsize=30, ha='center', va='center')
for x, txt, tx, col in zip([2362, 2484, 2606, 2727], grade_labels, [2430, 2552, 2673, 2795], violin_colors):
    overlay.add_patch(Rectangle((x, 37), 59, 56, facecolor=col, edgecolor='#111111', linewidth=5.5))
    overlay.text(tx, 63, txt, fontsize=24, ha='left', va='center')

for x, txt in zip([32, 811, 1590, 2404], ['(C) Consensus K = 3', '(D) Consensus K = 4',
                                          '(E) Consensus K = 5', '(F) Consensus K = 6']):
    overlay.text(x, 1319, txt, fontsize=54, ha='left', va='center')

########################################################  Consensus panels


def draw_tree(ax, tree, tuft_x, tuft_y, base):
    # dense low part: mountain outline plus a comb of spikes
    ax.fill_between(tuft_x, tuft_y, base, color='#111111', linewidth=0)
    ax.vlines(tuft_x, tuft_y, base, color='#111111', lw=2.2)
    for xl, xr, top, end_l, end_r in tree:
        ax.plot([xl, xl, xr, xr], [end_l, top, top, end_r], color='#1a1f22', lw=2.0,
                solid_joinstyle='miter', solid_capstyle='butt')
    ax.plot([tuft_x[0], tuft_x[-1]], [base, base], color='#111111', lw=3)


def draw_consensus(crop_x, crop_y_tree, crop_y_heat, tree, tuft_x, tuft_y, base,
                   bar_edges, bar_names, bar_y0, bar_y1, blocks, faint, extent):
    # tree and colour strip
    top = px_axes(crop_x, crop_y_tree, 675, 245)
    top.set_xlim(0, 1568)
    top.set_ylim(735, 0)
    top.axis('off')
    draw_tree(top, tree, tuft_x, tuft_y, base)
    top.bar(bar_edges[:-1], bar_y1 - bar_y0, width=np.diff(bar_edges), bottom=bar_y0, align='edge',
            color=[cluster_colors[n] for n in bar_names], linewidth=0)

    # matrix on a grid of about 3.4 pixels, like the source image
    cell = 8
    grid = np.zeros((1568 // cell, 1568 // cell))
    for x0, x1, y0, y1, v in blocks:
        grid[y0 // cell:(y1 + cell // 2) // cell, x0 // cell:(x1 + cell // 2) // cell] = v
    for x0, x1, y0, y1, v in faint:
        rows = slice(y0 // cell, max(y0 // cell + 1, (y1 + cell // 2) // cell))
        cols = slice(x0 // cell, max(x0 // cell + 1, (x1 + cell // 2) // cell))
        grid[rows, cols] = np.maximum(grid[rows, cols], v)
    heat = px_axes(crop_x, crop_y_heat, 675, 665)
    heat.imshow(grid, cmap=consensus_cmap, vmin=0, vmax=1, extent=(0, 1568, 1568, 0), aspect='auto',
                interpolation='nearest')
    heat.set_xlim(extent[0], extent[1])
    heat.set_ylim(extent[3], extent[2])
    # keep the crop scale after limiting to the matrix box
    heat.set_position([(crop_x + extent[0] / 2.323) / W, 1 - (crop_y_heat + extent[3] / 2.358) / H,
                       (extent[1] - extent[0]) / 2.323 / W, (extent[3] - extent[2]) / 2.358 / H])
    heat.axis('off')
    return top


draw_consensus(100, 1395, 1650, c_tree, c_tuft_x, c_tuft_y, 622, c_bar_edges, c_bar_names, 642, 720,
               c_blocks, c_faint, (23, 1549, 10, 1553))
draw_consensus(905, 1395, 1650, d_tree, d_tuft_x, d_tuft_y, 622, d_bar_edges, d_bar_names, 645, 720,
               d_blocks, d_faint, (16, 1541, 10, 1555))
draw_consensus(1695, 1395, 1645, e_tree, e_tuft_x, e_tuft_y, 616, e_bar_edges, e_bar_names, 640, 714,
               e_blocks, e_faint, (21, 1545, 12, 1558))
top_f = draw_consensus(2495, 1395, 1650, f_tree, f_tuft_x, f_tuft_y, 628, f_bar_edges, f_bar_names, 648, 726,
                       f_blocks, f_faint, (16, 1545, 12, 1553))
top_f.hlines([12] * len(f_tree_marks), np.array(f_tree_marks) - 9, np.array(f_tree_marks) + 9,
              color='#9fb0b5', lw=1.5)

########################################################  Colour key

key = px_axes(3228, 1671, 20, 516)
key.bar([0] * len(colorbar_levels), 1, bottom=range(len(colorbar_levels)), width=1, align='center',
        color=consensus_cmap(colorbar_levels), linewidth=0)
key.set_xlim(-.5, .5)
key.set_ylim(0, len(colorbar_levels))
key.axis('off')
for i, txt in enumerate(colorbar_labels):
    overlay.text(3281, 1688 + i * 51.6, txt, fontsize=18, ha='center', va='center')

fig.savefig('out.png', dpi=100)
